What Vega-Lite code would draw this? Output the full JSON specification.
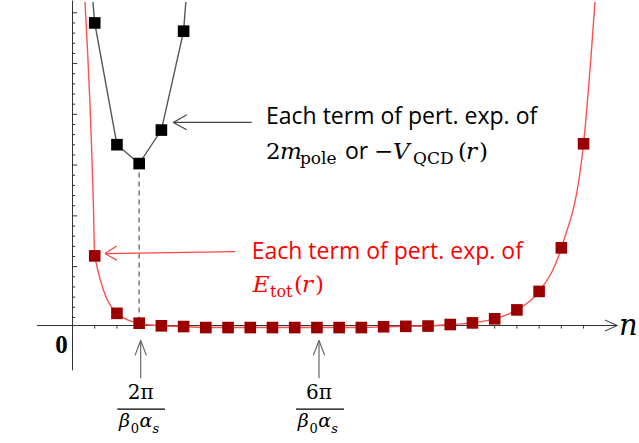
{
  "$schema": "https://vega.github.io/schema/vega-lite/v6.json",
  "width": 639,
  "height": 443,
  "autosize": {"type": "fit", "contains": "padding"},
  "padding": 0,
  "background": "white",
  "config": {"view": {"stroke": null}},
  "datasets": {
    "etot": [
      {"n": 1, "v": 6.86}, {"n": 2, "v": 1.2}, {"n": 3, "v": 0.23}, {"n": 4, "v": -0.03},
      {"n": 5, "v": -0.1}, {"n": 6, "v": -0.2}, {"n": 7, "v": -0.2}, {"n": 8, "v": -0.2},
      {"n": 9, "v": -0.2}, {"n": 10, "v": -0.2}, {"n": 11, "v": -0.2}, {"n": 12, "v": -0.2},
      {"n": 13, "v": -0.2}, {"n": 14, "v": -0.12}, {"n": 15, "v": -0.08}, {"n": 16, "v": -0.05},
      {"n": 17, "v": 0.1}, {"n": 18, "v": 0.26}, {"n": 19, "v": 0.66}, {"n": 20, "v": 1.54},
      {"n": 21, "v": 3.36}, {"n": 22, "v": 7.65}, {"n": 23, "v": 17.9}
    ],
    "etotCurve": [
      {"n": 0.5626, "v": 31.86}, {"n": 0.936, "v": 12.25},
      {"n": 1, "v": 6.86}, {"n": 2, "v": 1.2}, {"n": 3, "v": 0.23}, {"n": 4, "v": -0.03},
      {"n": 5, "v": -0.1}, {"n": 6, "v": -0.2}, {"n": 7, "v": -0.2}, {"n": 8, "v": -0.2},
      {"n": 9, "v": -0.2}, {"n": 10, "v": -0.2}, {"n": 11, "v": -0.2}, {"n": 12, "v": -0.2},
      {"n": 13, "v": -0.2}, {"n": 14, "v": -0.12}, {"n": 15, "v": -0.08}, {"n": 16, "v": -0.05},
      {"n": 17, "v": 0.1}, {"n": 18, "v": 0.26}, {"n": 19, "v": 0.66}, {"n": 20, "v": 1.54},
      {"n": 21, "v": 3.36}, {"n": 22, "v": 7.65}, {"n": 23, "v": 17.9},
      {"n": 23.515, "v": 31.86}
    ],
    "mpole": [
      {"n": 1, "v": 29.8}, {"n": 2, "v": 17.81}, {"n": 3, "v": 15.95},
      {"n": 4, "v": 19.25}, {"n": 5, "v": 28.99}
    ],
    "mpoleLine": [
      {"n": 0.92, "v": 31.86}, {"n": 1, "v": 29.8}, {"n": 2, "v": 17.81}, {"n": 3, "v": 15.95},
      {"n": 4, "v": 19.25}, {"n": 5, "v": 28.99}, {"n": 5.1, "v": 31.86}
    ],
    "axes": [
      {"n": -1.598, "v": 0, "n2": 24.518, "v2": 0},
      {"n": 23.965, "v": 0.539, "n2": 24.518, "v2": 0},
      {"n": 23.965, "v": -0.539, "n2": 24.518, "v2": 0},
      {"n": 0, "v": 32, "n2": 0, "v2": -4.41}
    ],
    "yMinor": [
      {"n": 0, "v": 0.8}, {"n": 0, "v": 1.8}, {"n": 0, "v": 2.8}, {"n": 0, "v": 3.8}, {"n": 0, "v": 4.8},
      {"n": 0, "v": 6.8}, {"n": 0, "v": 7.8}, {"n": 0, "v": 8.8}, {"n": 0, "v": 9.8},
      {"n": 0, "v": 11.8}, {"n": 0, "v": 12.8}, {"n": 0, "v": 13.8}, {"n": 0, "v": 14.8},
      {"n": 0, "v": 16.8}, {"n": 0, "v": 17.8}, {"n": 0, "v": 18.8}, {"n": 0, "v": 19.8},
      {"n": 0, "v": 21.8}, {"n": 0, "v": 22.8}, {"n": 0, "v": 23.8}, {"n": 0, "v": 24.8},
      {"n": 0, "v": 26.8}, {"n": 0, "v": 27.8}, {"n": 0, "v": 28.8}, {"n": 0, "v": 29.8}
    ],
    "yMajor": [
      {"n": 0, "v": 5.8}, {"n": 0, "v": 10.8}, {"n": 0, "v": 15.8},
      {"n": 0, "v": 20.8}, {"n": 0, "v": 25.8}, {"n": 0, "v": 30.8}
    ],
    "xTicks": [
      {"n": 1, "v": 0}, {"n": 2, "v": 0}, {"n": 3, "v": 0}, {"n": 4, "v": 0}, {"n": 5, "v": 0},
      {"n": 6, "v": 0}, {"n": 7, "v": 0}, {"n": 8, "v": 0}, {"n": 9, "v": 0}, {"n": 10, "v": 0},
      {"n": 11, "v": 0}, {"n": 12, "v": 0}, {"n": 13, "v": 0}, {"n": 14, "v": 0}, {"n": 15, "v": 0},
      {"n": 16, "v": 0}, {"n": 17, "v": 0}, {"n": 18, "v": 0}, {"n": 19, "v": 0}, {"n": 20, "v": 0},
      {"n": 21, "v": 0}, {"n": 22, "v": 0}, {"n": 23, "v": 0}
    ],
    "minimumDrop": [
      {"n": 3, "v": 15.95, "n2": 3, "v2": 0.4}
    ],
    "blackArrow": [
      {"n": 8.065, "v": 20.0, "n2": 4.536, "v2": 20.0},
      {"n": 5.14, "v": 20.75, "n2": 4.536, "v2": 20.0},
      {"n": 5.14, "v": 19.28, "n2": 4.536, "v2": 20.0}
    ],
    "redArrow": [
      {"n": 7.313, "v": 7.284, "n2": 1.463, "v2": 7.088},
      {"n": 1.989, "v": 7.843, "n2": 1.463, "v2": 7.088},
      {"n": 1.989, "v": 6.441, "n2": 1.463, "v2": 7.088}
    ],
    "upArrows": [
      {"n": 3.069, "v": -5.196, "n2": 3.069, "v2": -1.471},
      {"n": 2.814, "v": -2.941, "n2": 3.069, "v2": -1.471},
      {"n": 3.326, "v": -2.941, "n2": 3.069, "v2": -1.471},
      {"n": 11.094, "v": -5.196, "n2": 11.094, "v2": -1.471},
      {"n": 10.837, "v": -2.941, "n2": 11.094, "v2": -1.471},
      {"n": 11.35, "v": -2.941, "n2": 11.094, "v2": -1.471}
    ],
    "fractionBars": [
      {"n": 2.016, "v": -8.235, "n2": 4.163, "v2": -8.235},
      {"n": 10.058, "v": -8.235, "n2": 12.219, "v2": -8.235}
    ],
    "sansBlack": [
      {"n": 8.708, "v": 19.8, "t": "Each term of pert. exp. of"},
      {"n": 12.264, "v": 16.37, "t": "or"}
    ],
    "sansRed": [
      {"n": 8.065, "v": 6.57, "t": "Each term of pert. exp. of"}
    ],
    "mathUpright": [
      {"n": 8.708, "v": 16.37, "t": "2"},
      {"n": 13.569, "v": 16.37, "t": "−"},
      {"n": 17.349, "v": 16.37, "t": "("},
      {"n": 18.294, "v": 16.37, "t": ")"}
    ],
    "mathItalic": [
      {"n": 9.338, "v": 16.37, "t": "m"},
      {"n": 14.424, "v": 16.37, "t": "V"},
      {"n": 17.709, "v": 16.37, "t": "r"}
    ],
    "mathSub": [
      {"n": 10.238, "v": 15.88, "t": "pole"},
      {"n": 15.324, "v": 15.88, "t": "QCD"}
    ],
    "redUpright": [
      {"n": 9.968, "v": 3.333, "t": "("},
      {"n": 10.913, "v": 3.333, "t": ")"}
    ],
    "redItalic": [
      {"n": 8.11, "v": 3.333, "t": "E"},
      {"n": 10.328, "v": 3.333, "t": "r"}
    ],
    "redSub": [
      {"n": 8.888, "v": 2.843, "t": "tot"}
    ],
    "numerators": [
      {"n": 3.069, "v": -7.284, "t": "2π"},
      {"n": 11.094, "v": -7.284, "t": "6π"}
    ],
    "denomItalic": [
      {"n": 2.093, "v": -10.0, "t": "β"},
      {"n": 3.015, "v": -10.0, "t": "α"},
      {"n": 10.135, "v": -10.0, "t": "β"},
      {"n": 11.057, "v": -10.0, "t": "α"}
    ],
    "denomSubUpright": [
      {"n": 2.624, "v": -10.55, "t": "0"},
      {"n": 10.666, "v": -10.55, "t": "0"}
    ],
    "denomSubItalic": [
      {"n": 3.6, "v": -10.55, "t": "s"},
      {"n": 11.642, "v": -10.55, "t": "s"}
    ],
    "origin": [
      {"n": -0.495, "v": -2.745, "t": "0"}
    ],
    "axisName": [
      {"n": 24.595, "v": -0.98, "t": "n"}
    ]
  },
  "encoding": {
    "x": {"field": "n", "type": "quantitative", "scale": {"domain": [-3.263, 25.495], "nice": false, "zero": false}, "axis": null},
    "y": {"field": "v", "type": "quantitative", "scale": {"domain": [-11.569, 31.863], "nice": false, "zero": false}, "axis": null}
  },
  "layer": [
    {
      "data": {"name": "axes"},
      "mark": {"type": "rule", "color": "#333333", "strokeWidth": 1},
      "encoding": {"x2": {"field": "n2"}, "y2": {"field": "v2"}}
    },
    {
      "data": {"name": "yMinor"},
      "mark": {"type": "rule", "color": "#333333", "strokeWidth": 1},
      "encoding": {"x2": {"datum": 0.12}}
    },
    {
      "data": {"name": "yMajor"},
      "mark": {"type": "rule", "color": "#333333", "strokeWidth": 1},
      "encoding": {"x2": {"datum": 0.21}}
    },
    {
      "data": {"name": "xTicks"},
      "mark": {"type": "rule", "color": "#333333", "strokeWidth": 1},
      "encoding": {"y2": {"datum": -0.3}}
    },
    {
      "data": {"name": "minimumDrop"},
      "mark": {"type": "rule", "color": "#808080", "strokeWidth": 1.6, "strokeDash": [5, 4]},
      "encoding": {"x2": {"field": "n2"}, "y2": {"field": "v2"}}
    },
    {
      "data": {"name": "mpoleLine"},
      "mark": {"type": "line", "color": "#555555", "strokeWidth": 1.4, "clip": true},
      "encoding": {}
    },
    {
      "data": {"name": "etotCurve"},
      "mark": {"type": "line", "interpolate": "monotone", "color": "#ff5050", "strokeWidth": 1.4, "clip": true},
      "encoding": {}
    },
    {
      "data": {"name": "mpole"},
      "mark": {"type": "point", "shape": "square", "filled": true, "size": 135, "color": "#000000", "opacity": 1},
      "encoding": {}
    },
    {
      "data": {"name": "etot"},
      "mark": {"type": "point", "shape": "square", "filled": true, "size": 135, "color": "#9b0000", "opacity": 1},
      "encoding": {}
    },
    {
      "data": {"name": "blackArrow"},
      "mark": {"type": "rule", "color": "#444444", "strokeWidth": 1.2},
      "encoding": {"x2": {"field": "n2"}, "y2": {"field": "v2"}}
    },
    {
      "data": {"name": "redArrow"},
      "mark": {"type": "rule", "color": "#ff4040", "strokeWidth": 1.2},
      "encoding": {"x2": {"field": "n2"}, "y2": {"field": "v2"}}
    },
    {
      "data": {"name": "upArrows"},
      "mark": {"type": "rule", "color": "#666666", "strokeWidth": 1.2},
      "encoding": {"x2": {"field": "n2"}, "y2": {"field": "v2"}}
    },
    {
      "data": {"name": "fractionBars"},
      "mark": {"type": "rule", "color": "#000000", "strokeWidth": 1.2},
      "encoding": {"x2": {"field": "n2"}, "y2": {"field": "v2"}}
    },
    {
      "data": {"name": "sansBlack"},
      "mark": {"type": "text", "align": "left", "baseline": "alphabetic", "font": "Open Sans", "fontSize": 23, "color": "#000000"},
      "encoding": {"text": {"field": "t"}}
    },
    {
      "data": {"name": "sansRed"},
      "mark": {"type": "text", "align": "left", "baseline": "alphabetic", "font": "Open Sans", "fontSize": 23, "color": "#ff0000"},
      "encoding": {"text": {"field": "t"}}
    },
    {
      "data": {"name": "mathUpright"},
      "mark": {"type": "text", "align": "left", "baseline": "alphabetic", "font": "DejaVu Serif", "fontSize": 23, "color": "#000000"},
      "encoding": {"text": {"field": "t"}}
    },
    {
      "data": {"name": "mathItalic"},
      "mark": {"type": "text", "align": "left", "baseline": "alphabetic", "font": "DejaVu Serif", "fontStyle": "italic", "fontSize": 23, "color": "#000000"},
      "encoding": {"text": {"field": "t"}}
    },
    {
      "data": {"name": "mathSub"},
      "mark": {"type": "text", "align": "left", "baseline": "alphabetic", "font": "DejaVu Serif", "fontSize": 17, "color": "#000000"},
      "encoding": {"text": {"field": "t"}}
    },
    {
      "data": {"name": "redUpright"},
      "mark": {"type": "text", "align": "left", "baseline": "alphabetic", "font": "DejaVu Serif", "fontSize": 23, "color": "#ff0000"},
      "encoding": {"text": {"field": "t"}}
    },
    {
      "data": {"name": "redItalic"},
      "mark": {"type": "text", "align": "left", "baseline": "alphabetic", "font": "DejaVu Serif", "fontStyle": "italic", "fontSize": 23, "color": "#ff0000"},
      "encoding": {"text": {"field": "t"}}
    },
    {
      "data": {"name": "redSub"},
      "mark": {"type": "text", "align": "left", "baseline": "alphabetic", "font": "DejaVu Serif", "fontSize": 16, "color": "#ff0000"},
      "encoding": {"text": {"field": "t"}}
    },
    {
      "data": {"name": "numerators"},
      "mark": {"type": "text", "align": "center", "baseline": "alphabetic", "font": "DejaVu Serif", "fontSize": 20, "color": "#000000"},
      "encoding": {"text": {"field": "t"}}
    },
    {
      "data": {"name": "denomItalic"},
      "mark": {"type": "text", "align": "left", "baseline": "alphabetic", "font": "DejaVu Serif", "fontStyle": "italic", "fontSize": 19, "color": "#000000"},
      "encoding": {"text": {"field": "t"}}
    },
    {
      "data": {"name": "denomSubUpright"},
      "mark": {"type": "text", "align": "left", "baseline": "alphabetic", "font": "DejaVu Serif", "fontSize": 13, "color": "#000000"},
      "encoding": {"text": {"field": "t"}}
    },
    {
      "data": {"name": "denomSubItalic"},
      "mark": {"type": "text", "align": "left", "baseline": "alphabetic", "font": "DejaVu Serif", "fontStyle": "italic", "fontSize": 13, "color": "#000000"},
      "encoding": {"text": {"field": "t"}}
    },
    {
      "data": {"name": "origin"},
      "mark": {"type": "text", "align": "center", "baseline": "alphabetic", "font": "Liberation Serif", "fontWeight": "bold", "fontSize": 25, "color": "#000000"},
      "encoding": {"text": {"field": "t"}}
    },
    {
      "data": {"name": "axisName"},
      "mark": {"type": "text", "align": "left", "baseline": "alphabetic", "font": "DejaVu Serif", "fontStyle": "italic", "fontSize": 29, "color": "#000000"},
      "encoding": {"text": {"field": "t"}}
    }
  ]
}
